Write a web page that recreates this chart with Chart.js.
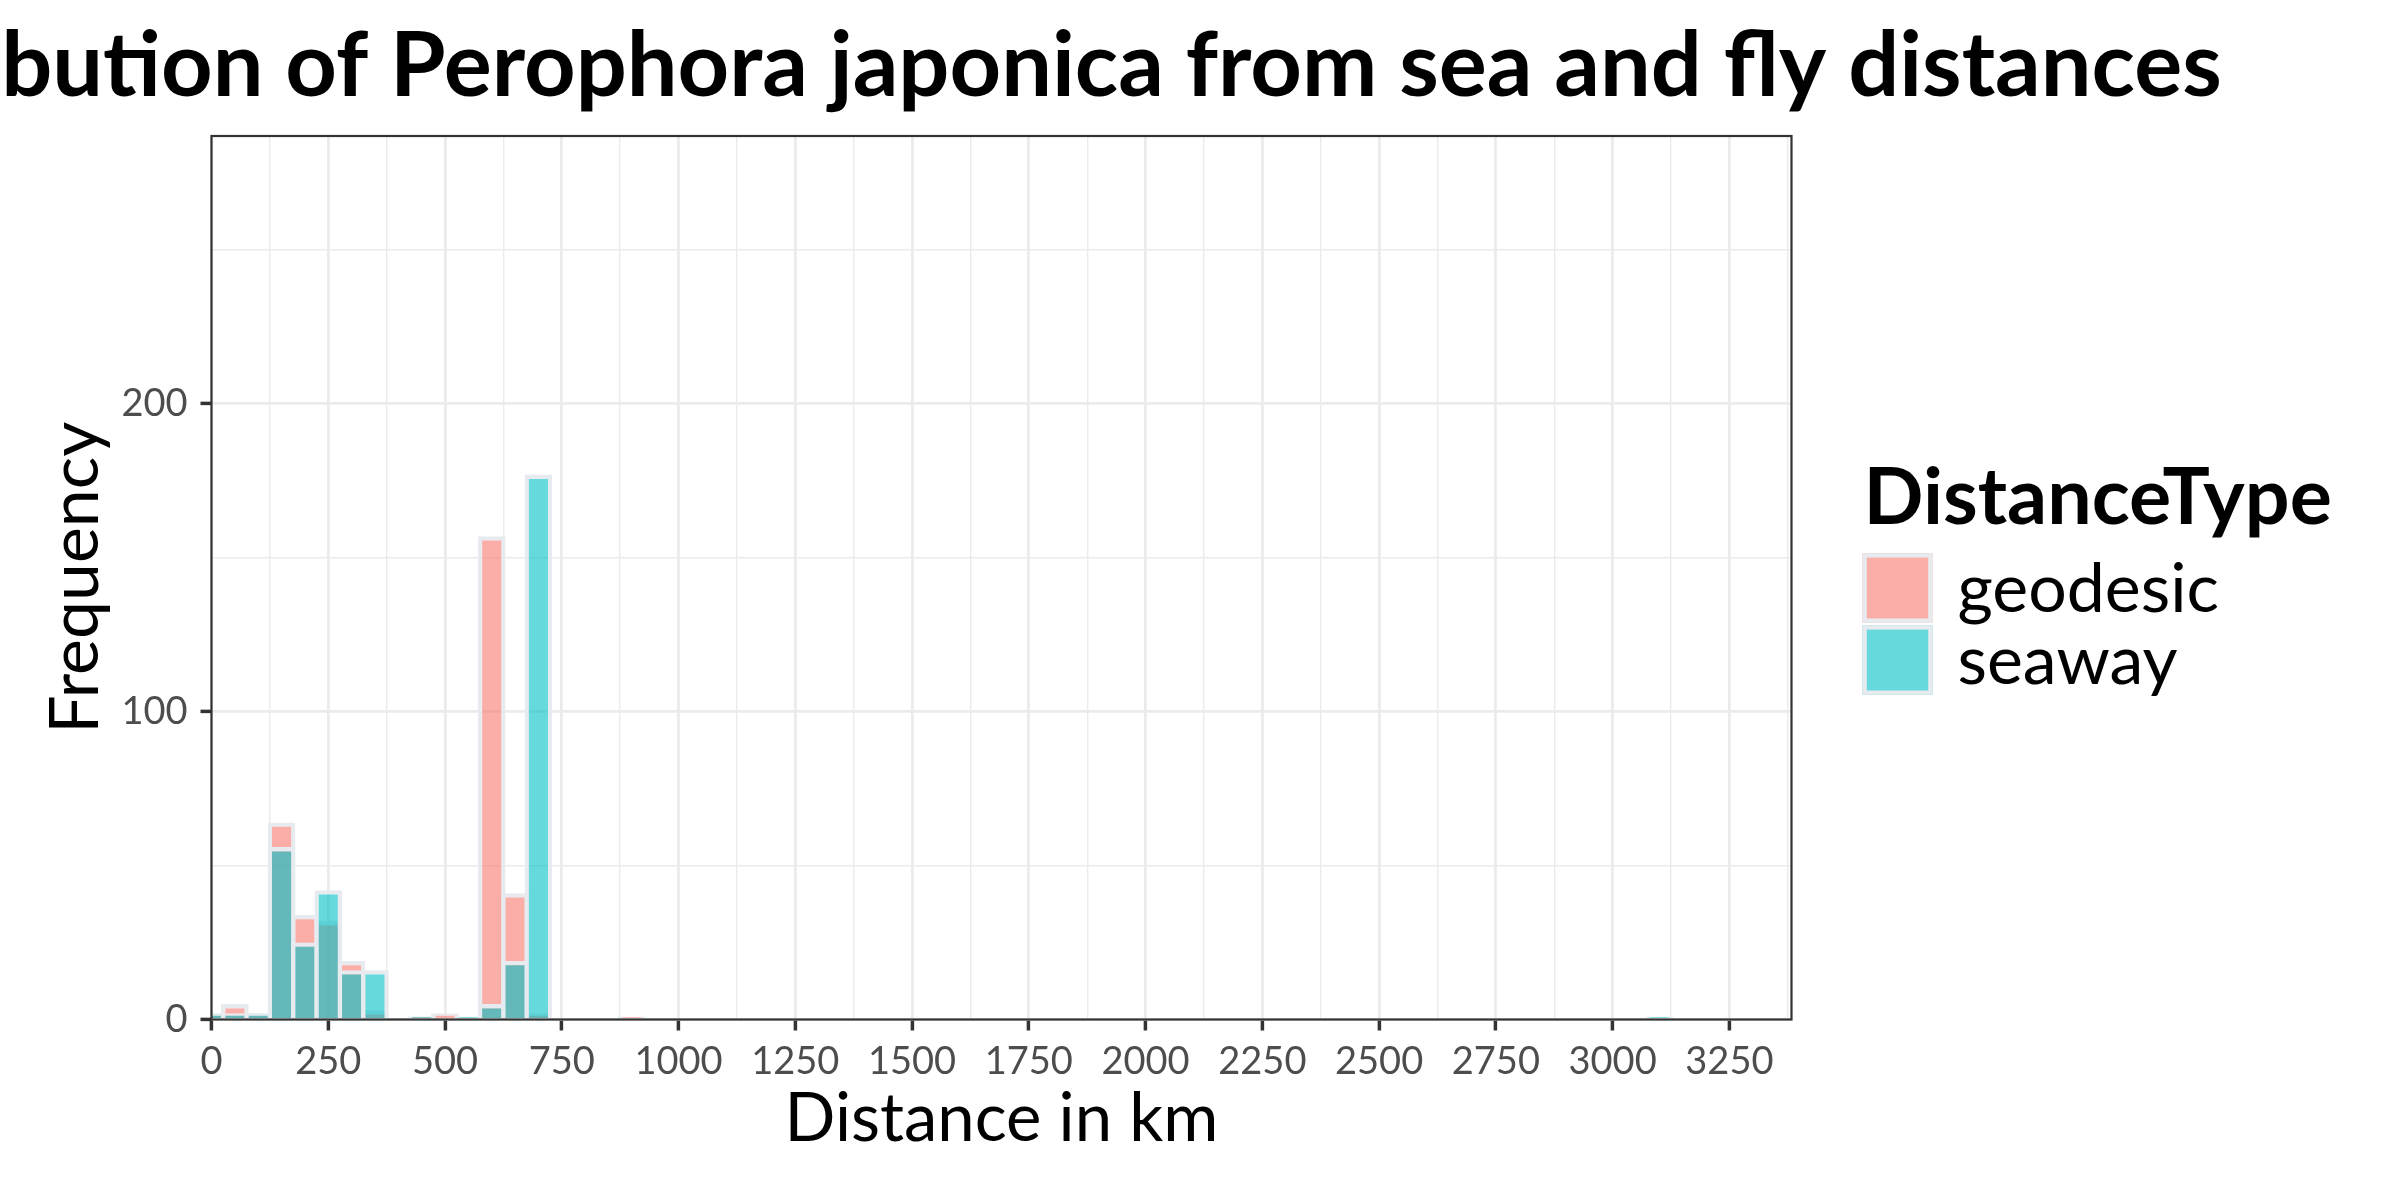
<!DOCTYPE html>
<html>
<head>
<meta charset="utf-8">
<script src="https://cdn.jsdelivr.net/npm/chart.js@4.4.1/dist/chart.umd.min.js"></script>
<style>
  html, body { margin: 0; padding: 0; background: #ffffff; }
  canvas { display: block; }
</style>
</head>
<body>
<canvas id="c" width="2400" height="1200" style="width:2400px;height:1200px"></canvas>
<script>
// ---------- data ----------
const chartTitle = 'Distribution of Perophora japonica from sea and fly distances';
const xTitle = 'Distance in km';
const yTitle = 'Frequency';
const legendTitle = 'DistanceType';
const seriesNames = ['geodesic', 'seaway'];
const binCenters     = [0, 50, 100, 150, 200, 250, 300, 350, 450, 500, 550, 600, 650, 700, 900, 3100];
const geodesicCounts = [2,  5,   2,  64,  34,  32,  19,   3,   1,   2, null, 157,  41,   2,   1, null];
const seawayCounts   = [2,  2,   2,  56,  25,  42,  16,  16,   1, null,  1,   5,  19, 177, null,  1];
const xTickValues = [0, 250, 500, 750, 1000, 1250, 1500, 1750, 2000, 2250, 2500, 2750, 3000, 3250];
const xTickLabels = ['0', '250', '500', '750', '1000', '1250', '1500', '1750', '2000', '2250', '2500', '2750', '3000', '3250'];
const yTickValues = [0, 100, 200];
const yTickLabels = ['0', '100', '200'];
const xRange = [0, 3383];
const yRange = [0, 287];

// ---------- styles ----------
const FONT = 'Lato, "Open Sans", "DejaVu Sans", sans-serif';
const fills = ['rgba(248,118,109,0.6)', 'rgba(0,191,196,0.6)'];
const keyFills = ['#FBADA7', '#66D9DC'];
const outline = '#E7EAEE';
const gridCol = '#EBEBEB';
const darkCol = '#333333';
const tickTextCol = '#4D4D4D';

function withMinor(majors, max) {
  const step = majors[1] - majors[0];
  const all = majors.slice();
  majors.forEach(v => { if (v + step / 2 <= max) all.push(v + step / 2); });
  return all.sort((a, b) => a - b);
}
const isMajorX = v => xTickValues.indexOf(v) >= 0;
const isMajorY = v => yTickValues.indexOf(v) >= 0;

function toPoints(counts) {
  return binCenters.map((x, i) => ({ x: x, y: counts[i] })).filter(p => p.y !== null);
}

const decorPlugin = {
  id: 'decor',
  afterDatasetsDraw(chart) {
    const { ctx, chartArea: a } = chart;
    ctx.save();
    ctx.strokeStyle = darkCol;
    ctx.lineWidth = 2.2;
    ctx.strokeRect(a.left, a.top, a.right - a.left, a.bottom - a.top);
    ctx.restore();
  },
  afterDraw(chart) {
    const { ctx, chartArea: a } = chart;
    ctx.save();
    // main title, centred on the panel
    ctx.fillStyle = '#000000';
    ctx.font = 'bold 90px ' + FONT;
    ctx.textAlign = 'center';
    ctx.textBaseline = 'alphabetic';
    ctx.fillText(chartTitle, (a.left + a.right) / 2, 96);
    // legend
    const lx = a.right + 71;
    ctx.textAlign = 'left';
    ctx.font = 'bold 79px ' + FONT;
    ctx.fillText(legendTitle, lx + 1, 524);
    ctx.font = '68px ' + FONT;
    for (let i = 0; i < seriesNames.length; i++) {
      const ky = 553.3 + i * 72;
      ctx.fillStyle = keyFills[i];
      ctx.fillRect(lx, ky, 70, 69.5);
      ctx.strokeStyle = outline;
      ctx.lineWidth = 4.3;
      ctx.strokeRect(lx + 2.15, ky + 2.15, 70 - 4.3, 69.5 - 4.3);
      ctx.fillStyle = '#000000';
      ctx.fillText(seriesNames[i], lx + 95, ky + 58.5);
    }
    ctx.restore();
  }
};

const barCommon = {
  borderColor: outline,
  borderWidth: 4.3,
  barPercentage: 1.186,
  categoryPercentage: 1,
  grouped: false,
  clip: 0
};

new Chart(document.getElementById('c'), {
  type: 'bar',
  data: {
    datasets: [
      Object.assign({ label: seriesNames[1], data: toPoints(seawayCounts), backgroundColor: fills[1], order: 0 }, barCommon),
      Object.assign({ label: seriesNames[0], data: toPoints(geodesicCounts), backgroundColor: fills[0], order: 1 }, barCommon)
    ]
  },
  options: {
    responsive: false,
    devicePixelRatio: 1,
    animation: false,
    layout: { padding: { left: 0, top: 136, right: 608.5, bottom: 0 } },
    plugins: {
      legend: { display: false },
      title: { display: false },
      tooltip: { enabled: false }
    },
    scales: {
      x: {
        type: 'linear',
        min: xRange[0],
        max: xRange[1],
        offset: false,
        afterBuildTicks: s => { s.ticks = withMinor(xTickValues, xRange[1]).map(v => ({ value: v })); },
        afterFit: s => { s.height = 1200 - 1019.5; },
        grid: {
          offset: false,
          color: gridCol,
          lineWidth: c => (c.tick && isMajorX(c.tick.value)) ? 2.8 : 1.4,
          tickLength: 11,
          tickWidth: 3.5,
          tickColor: c => (c.tick && isMajorX(c.tick.value)) ? darkCol : 'rgba(0,0,0,0)'
        },
        border: { display: false },
        ticks: {
          autoSkip: false,
          maxRotation: 0,
          minRotation: 0,
          includeBounds: false,
          padding: 8,
          color: tickTextCol,
          font: { family: FONT, size: 38 },
          callback: v => { const i = xTickValues.indexOf(v); return i >= 0 ? xTickLabels[i] : ''; }
        },
        title: {
          display: true,
          text: xTitle,
          color: '#000000',
          font: { family: FONT, size: 67 },
          padding: { top: 0, bottom: 40 }
        }
      },
      y: {
        type: 'linear',
        min: yRange[0],
        max: yRange[1],
        afterBuildTicks: s => { s.ticks = withMinor(yTickValues, yRange[1]).map(v => ({ value: v })); },
        afterFit: s => { s.width = 211.5; },
        grid: {
          color: gridCol,
          lineWidth: c => (c.tick && isMajorY(c.tick.value)) ? 2.8 : 1.4,
          tickLength: 11,
          tickWidth: 3.5,
          tickColor: c => (c.tick && isMajorY(c.tick.value)) ? darkCol : 'rgba(0,0,0,0)'
        },
        border: { display: false },
        ticks: {
          autoSkip: false,
          includeBounds: false,
          padding: 13,
          color: tickTextCol,
          font: { family: FONT, size: 38 },
          callback: v => { const i = yTickValues.indexOf(v); return i >= 0 ? yTickLabels[i] : ''; }
        },
        title: {
          display: true,
          text: yTitle,
          color: '#000000',
          font: { family: FONT, size: 68 },
          padding: { top: 35, bottom: 0 }
        }
      }
    }
  },
  plugins: [decorPlugin]
});
</script>
</body>
</html>
